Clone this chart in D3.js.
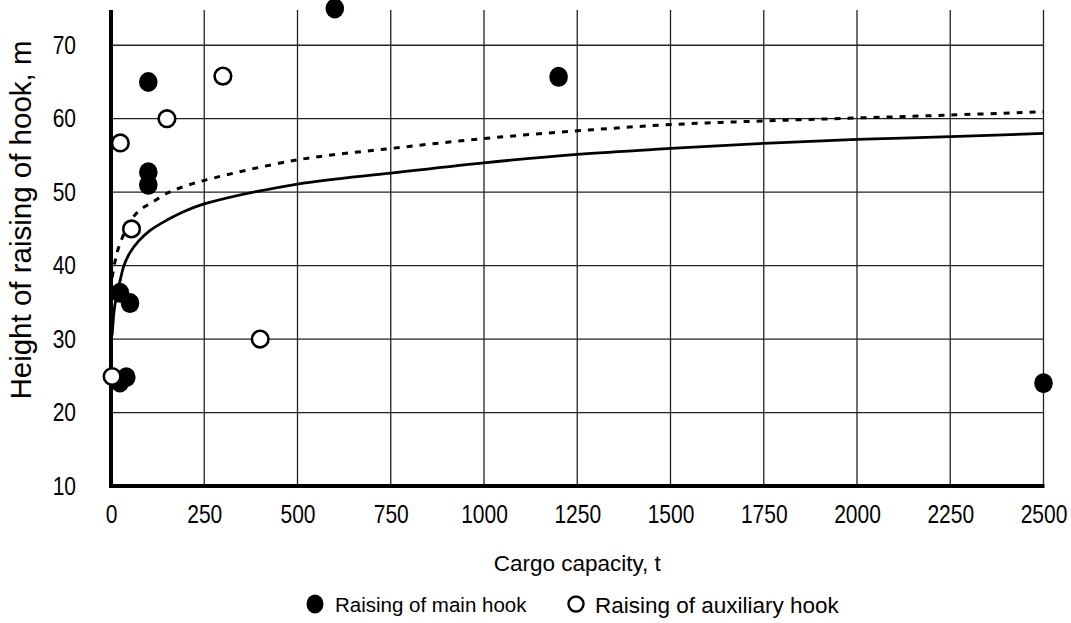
<!DOCTYPE html>
<html>
<head>
<meta charset="utf-8">
<script src="https://cdn.jsdelivr.net/npm/d3@7"></script>
<style>
  body { margin: 0; background: #fff; }
  text { font-family: 'Liberation Sans', Arial, sans-serif; fill: #000; }
</style>
</head>
<body>
<div id="chart"></div>
<script>
// ========================= DATA ==================================
const xTicks = [0, 250, 500, 750, 1000, 1250, 1500, 1750, 2000, 2250, 2500];
const yTicks = [10, 20, 30, 40, 50, 60, 70];

const mainCapacity = [600, 1200, 100, 100, 100, 24, 51, 24, 41, 2500];
const mainHeight = [75, 65.7, 65, 52.7, 51, 36.3, 34.9, 24.1, 24.8, 24];

const auxCapacity = [300, 150, 25, 55, 400, 3];
const auxHeight = [65.8, 60, 56.7, 45, 30, 24.9];

const mainTrendCapacity = [3, 10, 25, 34, 50, 75, 105, 150, 193, 250, 500, 750, 1000, 1250, 1500, 1750, 2000, 2250, 2500];
const mainTrendHeight = [30.5, 34.5, 38.1, 39.9, 41.7, 43.4, 44.8, 46.2, 47.3, 48.4, 51.1, 52.6, 54.0, 55.15, 55.95, 56.65, 57.2, 57.55, 58.0];

const auxTrendCapacity = [3, 11, 20, 50, 78, 110, 150, 186, 250, 500, 750, 1000, 1250, 1500, 1750, 2000, 2250, 2500];
const auxTrendHeight = [38.4, 40.6, 42.4, 45.9, 47.6, 48.6, 49.85, 50.6, 51.6, 54.4, 55.95, 57.3, 58.35, 59.2, 59.7, 60.1, 60.5, 60.95];

// ========================= CHART ==================================
const W = 1071, H = 623;

const svg = d3.select('#chart').append('svg')
    .attr('width', W)
    .attr('height', H);

const x = d3.scaleLinear().domain([0, 2500]).range([111, 1043.5]);
const y = d3.scaleLinear().domain([10, 74.8]).range([486, 10]);

// grid
svg.append('g')
    .attr('class', 'grid x')
    .selectAll('line')
    .data(xTicks.slice(1))
    .enter()
    .append('line')
    .attr('x1', d => x(d))
    .attr('x2', d => x(d))
    .attr('y1', y(74.8))
    .attr('y2', y(10))
    .attr('stroke', '#222')
    .attr('stroke-width', 1.3);

svg.append('g')
    .attr('class', 'grid y')
    .selectAll('line')
    .data(yTicks.slice(1))
    .enter()
    .append('line')
    .attr('x1', x(0))
    .attr('x2', x(2500))
    .attr('y1', d => y(d))
    .attr('y2', d => y(d))
    .attr('stroke', '#222')
    .attr('stroke-width', 1.3);

// axes (labels only, the thick lines are drawn by hand below)
// the labels in the source are a bit taller than wide, hence the scale(1, 1.2)
svg.append('g')
    .attr('class', 'axis x')
    .attr('transform', `translate(0, ${y(10)})`)
    .call(d3.axisBottom(x).tickValues(xTicks).tickSize(0).tickFormat(d3.format('d')))
    .attr('font-size', '21px')
    .call(g => g.select('.domain').remove())
    .call(g => g.selectAll('.tick text')
        .attr('y', 31)
        .attr('dy', 0)
        .attr('transform', 'scale(1, 1.2)'));

svg.append('g')
    .attr('class', 'axis y')
    .attr('transform', `translate(${x(0)}, 0)`)
    .call(d3.axisLeft(y).tickValues(yTicks).tickSize(0).tickPadding(35))
    .attr('font-size', '21px')
    .call(g => g.select('.domain').remove())
    .call(g => g.selectAll('.tick text')
        .attr('transform', 'scale(1, 1.2)'));

svg.selectAll('.axis text')
    .attr('font-family', "'Liberation Sans', Arial, sans-serif")
    .attr('fill', '#000');

svg.append('line')
    .attr('x1', x(0))
    .attr('x2', x(0))
    .attr('y1', y(74.8))
    .attr('y2', y(10) + 2)
    .attr('stroke', '#000')
    .attr('stroke-width', 4);

svg.append('line')
    .attr('x1', x(0) - 2)
    .attr('x2', x(2500) + 1)
    .attr('y1', y(10))
    .attr('y2', y(10))
    .attr('stroke', '#000')
    .attr('stroke-width', 4);

// trend curves
const line = d3.line()
    .x(d => x(d[0]))
    .y(d => y(d[1]))
    .curve(d3.curveCatmullRom.alpha(0.5));

svg.append('path')
    .datum(d3.zip(mainTrendCapacity, mainTrendHeight))
    .attr('d', line)
    .attr('fill', 'none')
    .attr('stroke', '#000')
    .attr('stroke-width', 2.8);

svg.append('path')
    .datum(d3.zip(auxTrendCapacity, auxTrendHeight))
    .attr('d', line)
    .attr('fill', 'none')
    .attr('stroke', '#000')
    .attr('stroke-width', 3)
    .attr('stroke-dasharray', '6, 7');

// points
svg.append('g')
    .attr('class', 'main-points')
    .selectAll('ellipse')
    .data(d3.zip(mainCapacity, mainHeight))
    .enter()
    .append('ellipse')
    .attr('cx', d => x(d[0]))
    .attr('cy', d => y(d[1]))
    .attr('rx', 9.3)
    .attr('ry', 10)
    .attr('fill', '#000');

svg.append('g')
    .attr('class', 'aux-points')
    .selectAll('circle')
    .data(d3.zip(auxCapacity, auxHeight))
    .enter()
    .append('circle')
    .attr('cx', d => x(d[0]))
    .attr('cy', d => y(d[1]))
    .attr('r', 8.3)
    .attr('fill', '#fff')
    .attr('stroke', '#000')
    .attr('stroke-width', 2.6);

// titles
svg.append('text')
    .attr('x', (x(0) + x(2500)) / 2)
    .attr('y', 571)
    .attr('text-anchor', 'middle')
    .attr('font-size', '22.5px')
    .text('Cargo capacity, t');

svg.append('text')
    .attr('transform', `translate(31, 220) rotate(-90)`)
    .attr('text-anchor', 'middle')
    .attr('font-size', '29.5px')
    .text('Height of raising of hook, m');

// legend
const legend = svg.append('g').attr('class', 'legend');

legend.append('ellipse')
    .attr('cx', 315)
    .attr('cy', 604)
    .attr('rx', 8.5)
    .attr('ry', 9.5)
    .attr('fill', '#000');

legend.append('text')
    .attr('x', 335)
    .attr('y', 612)
    .attr('font-size', '20.5px')
    .text('Raising of main hook');

legend.append('circle')
    .attr('cx', 576)
    .attr('cy', 604)
    .attr('r', 7.5)
    .attr('fill', '#fff')
    .attr('stroke', '#000')
    .attr('stroke-width', 2.4);

legend.append('text')
    .attr('x', 595)
    .attr('y', 613)
    .attr('font-size', '22.5px')
    .text('Raising of auxiliary hook');
</script>
</body>
</html>
